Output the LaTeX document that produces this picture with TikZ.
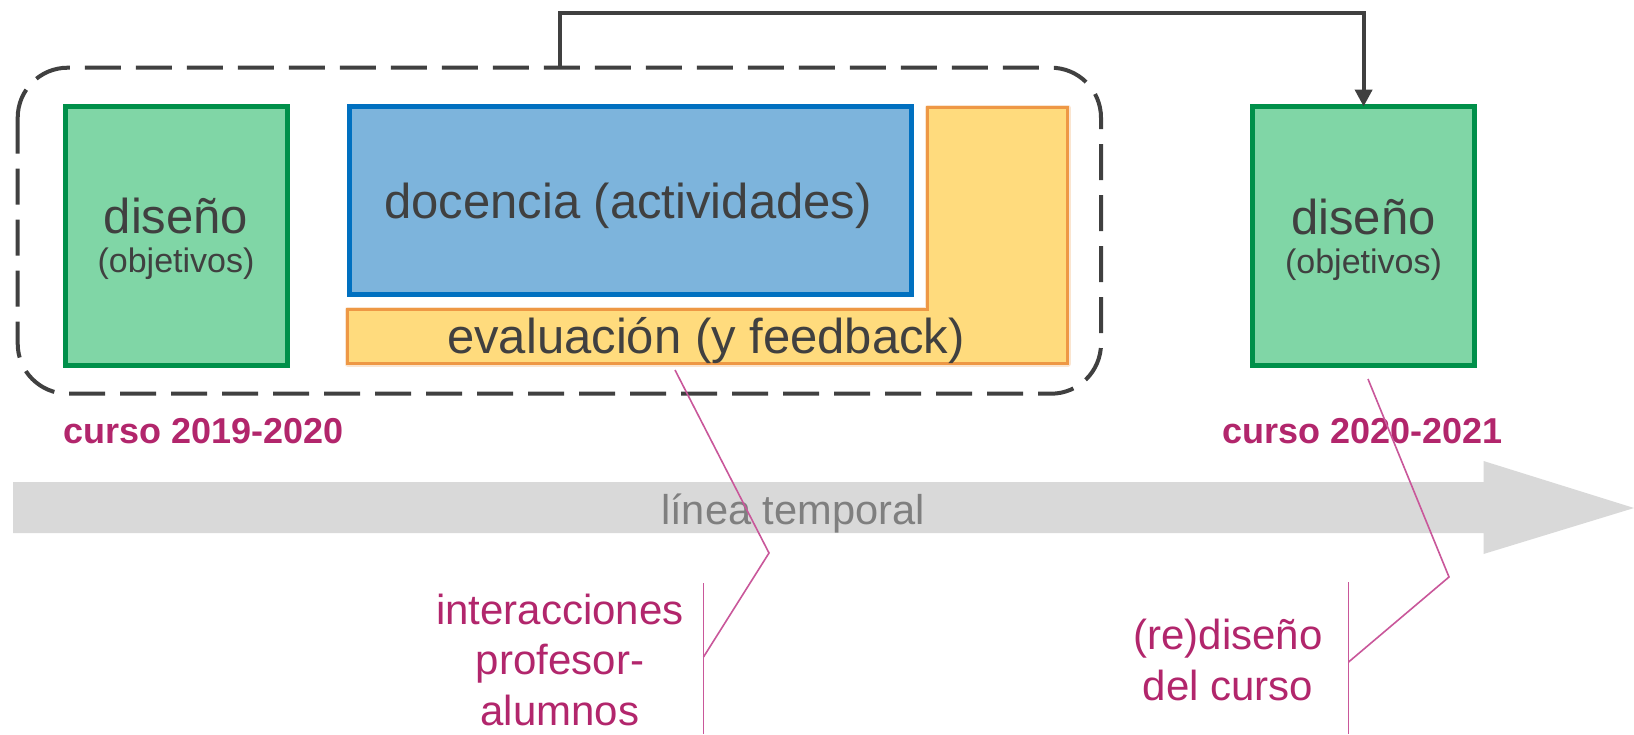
\documentclass[tikz,border=0pt]{standalone}
\usepackage{fontspec}
\setmainfont{Liberation Sans}
\usetikzlibrary{arrows.meta}
\definecolor{gfill}{HTML}{80D6A6}
\definecolor{gline}{HTML}{00904A}
\definecolor{bfill}{HTML}{7DB4DC}
\definecolor{bline}{HTML}{0070C0}
\definecolor{yfill}{HTML}{FFDB7D}
\definecolor{yline}{HTML}{EE9845}
\definecolor{dark}{HTML}{404040}
\definecolor{magtext}{HTML}{B2266C}
\definecolor{pinkline}{HTML}{C9579A}
\definecolor{tlgray}{HTML}{D9D9D9}
\definecolor{tltext}{HTML}{7F7F7F}
\tikzset{
  greenbox/.style={draw=gline, fill=gfill, line width=5pt, inner sep=0pt, outer sep=0pt,
    minimum width=222pt, minimum height=259pt},
  bluebox/.style={draw=bline, fill=bfill, line width=5pt, inner sep=0pt, outer sep=0pt,
    minimum width=562pt, minimum height=188pt},
  bigtxt/.style={text=dark, font=\fontsize{49}{58}\selectfont, inner sep=0pt, anchor=base},
  smalltxt/.style={text=dark, font=\fontsize{34}{40}\selectfont, inner sep=0pt, anchor=base},
  coursetxt/.style={text=magtext, font=\bfseries\fontsize{36}{42}\selectfont, inner sep=0pt, anchor=base west},
  notetxt/.style={text=magtext, font=\fontsize{42}{50.5}\selectfont, inner sep=0pt, align=center},
  callout/.style={draw=pinkline, line width=1.6pt},
  groupbox/.style={draw=dark, line width=4pt, rounded corners=50pt, dash pattern=on 36pt off 15pt},
  flow/.style={draw=dark, line width=4pt, -{Triangle[length=17pt,width=17pt]}},
}
\begin{document}
\begin{tikzpicture}[x=1pt,y=-1pt]
\useasboundingbox (0,0) rectangle (1634,734);
\fill[white] (0,0) rectangle (1634,734);

% timeline arrow
\fill[tlgray] (13,482) -- (1483.5,482) -- (1483.5,461) -- (1634,508) -- (1483.5,554) -- (1483.5,533) -- (13,533) -- cycle;
\node[text=tltext, font=\fontsize{41.6}{48}\selectfont, inner sep=0pt, anchor=base] (tl) at (793,524) {línea temporal};

% dashed group
\draw[groupbox] (17.7,67.7) rectangle (1101,393.7);
\coordinate (gtop) at (559.6,67.7);

% left design box
\node[greenbox] (d1) at (176,235.5) {};
\node[bigtxt] (d1a) at (176,233) {diseño};
\node[smalltxt] (d1b) at (176,272) {(objetivos)};

% evaluation L shape
\draw[yline, line width=6pt, opacity=0.25, line join=round] (347.5,309.5) -- (927.5,309.5) -- (927.5,107.5) -- (1067.5,107.5) -- (1067.5,363.5) -- (347.5,363.5) -- cycle;
\draw[draw=yline, fill=yfill, line width=2.5pt] (347.5,309.5) -- (927.5,309.5) -- (927.5,107.5) -- (1067.5,107.5) -- (1067.5,363.5) -- (347.5,363.5) -- cycle;
\node[bigtxt] (ev) at (706,353) {evaluación (y feedback)};

% teaching box
\node[bluebox] (doc) at (630.5,200.5) {};
\node[bigtxt] (doct) at (628,218) {docencia (actividades)};

% right design box
\node[greenbox] (d2) at (1363.5,236) {};
\node[bigtxt] (d2a) at (1363.5,234) {diseño};
\node[smalltxt] (d2b) at (1363.5,273) {(objetivos)};

% feedback arrow
\coordinate (ax) at (1363.6,0);
\draw[flow] (gtop) -- (559.6,12.7) -- (1363.6,12.7) -- (ax |- d2.north);

% course labels
\node[coursetxt] (c1) at (63,443.3) {curso 2019-2020};
\node[coursetxt] (c2) at (1222,443.3) {curso 2020-2021};

% callouts
\coordinate (e1) at (675,370);
\coordinate (k1) at (769,553);
\coordinate (j1) at (703.5,657);
\coordinate (v1t) at (703.5,583);
\coordinate (v1b) at (703.5,734);
\draw[callout] (e1) -- (k1) -- (j1);
\draw[callout] (v1t) -- (v1b);
\node[notetxt, anchor=base] (n1) at (560,725) {interacciones\\profesor-\\alumnos};

\coordinate (e2) at (1368,379);
\coordinate (k2) at (1449,577);
\coordinate (j2) at (1348.6,662);
\coordinate (v2t) at (1348.6,582);
\coordinate (v2b) at (1348.6,734);
\draw[callout] (e2) -- (k2) -- (j2);
\draw[callout] (v2t) -- (v2b);
\node[notetxt, anchor=base] (n2) at (1228,700) {(re)diseño\\del curso};
\end{tikzpicture}
\end{document}
